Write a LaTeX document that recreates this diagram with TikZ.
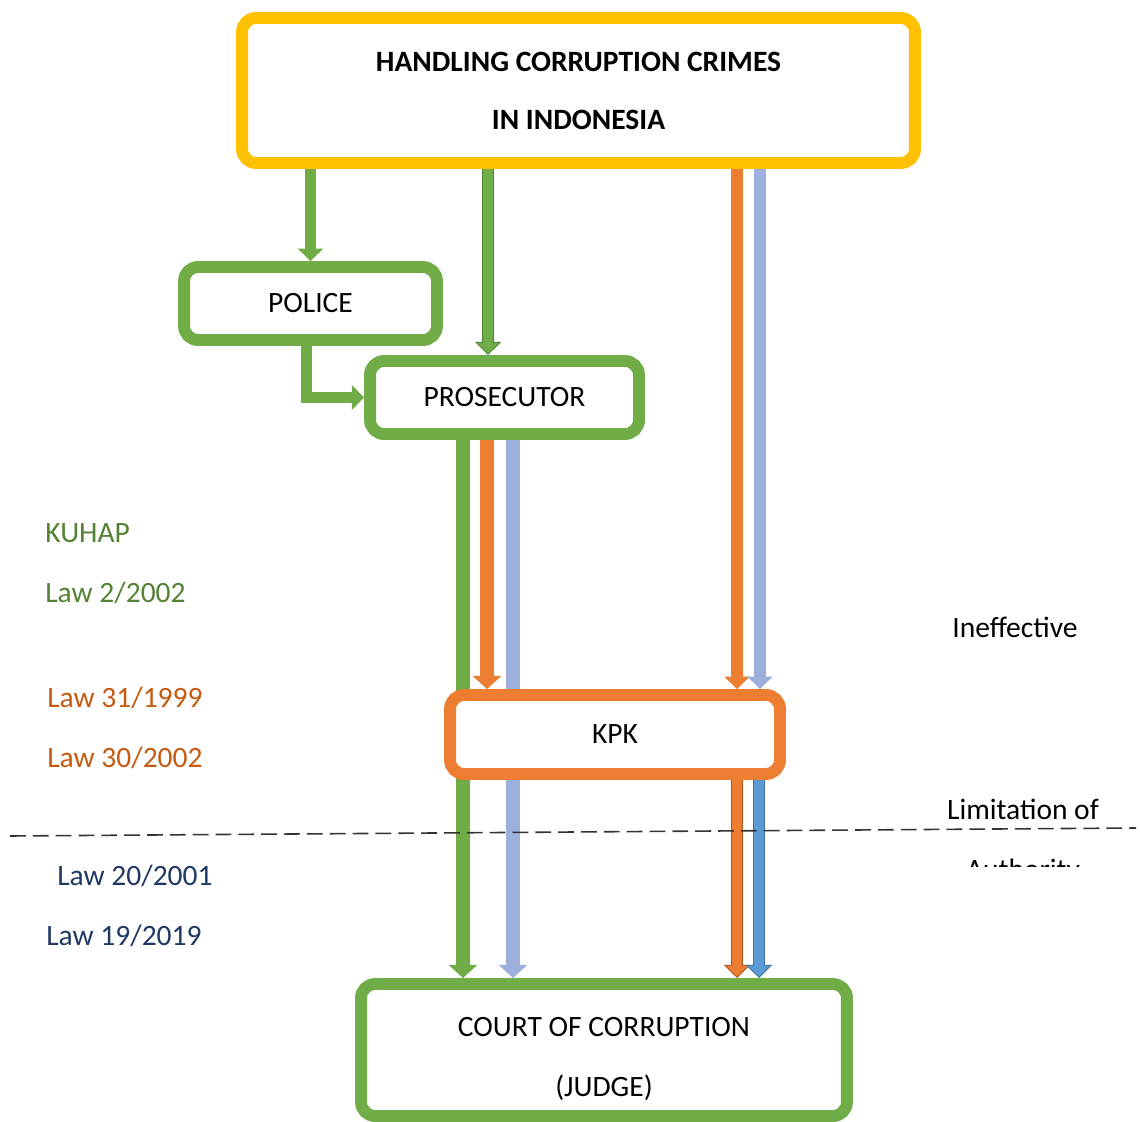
\documentclass[tikz,border=0pt]{standalone}
\usepackage{fontspec}
\setmainfont{Carlito}
\usetikzlibrary{arrows.meta,calc,backgrounds}

\definecolor{boxgold}{HTML}{FFC000}
\definecolor{boxgreen}{HTML}{70AD47}
\definecolor{boxorange}{HTML}{ED7D31}
\definecolor{paleblue}{HTML}{9DB0DD}
\definecolor{midblue}{HTML}{5B9BD5}
\definecolor{rimgreen}{HTML}{507E32}
\definecolor{rimorange}{HTML}{B4561A}
\definecolor{rimblue}{HTML}{41719C}
\definecolor{txtgreen}{HTML}{548235}
\definecolor{txtorange}{HTML}{C55A11}
\definecolor{txtblue}{HTML}{203864}

\tikzset{
  box/.style={draw, fill=white, line width=6.8pt, rounded corners=8pt, align=center},
  arr/.style={line width=6.4pt, -{Triangle[width=14pt,length=7pt]}},
  widearr/.style={line width=7.8pt, -{Triangle[width=16pt,length=7.5pt]}},
  rim/.style={line width=7pt, -{Triangle[width=14.5pt,length=7.5pt]}},
  core/.style={line width=5.6pt, -{Triangle[width=12pt,length=6pt]}, shorten >=0.9pt},
  lawtext/.style={anchor=base west, inner sep=0pt}
}

\begin{document}
\begin{tikzpicture}[x=0.02cm, y=-0.02cm, font=\fontsize{16.8}{20}\selectfont]
  \useasboundingbox (0,0) rectangle (1140,1122);

  % boxes
  \node[box, draw=boxgold, minimum width=13.46cm, minimum height=2.9cm] (title) at (578.5,90.5)
    {\textbf{HANDLING CORRUPTION CRIMES}\\[13pt]\textbf{IN INDONESIA}};
  \node[box, draw=boxgreen, minimum width=5.06cm, minimum height=1.46cm] (police) at (310.5,303.5) {POLICE};
  \node[box, draw=boxgreen, minimum width=5.38cm, minimum height=1.46cm] (prosecutor) at (504.5,397.5) {PROSECUTOR};
  \node[box, draw=boxorange, minimum width=6.6cm, minimum height=1.58cm] (kpk) at (615,734.5) {KPK};
  \node[box, draw=boxgreen, minimum width=9.72cm, minimum height=2.64cm] (court) at (604,1050)
    {\rule{0pt}{21pt}COURT OF CORRUPTION\\[14pt](JUDGE)};

  % connectors, behind the boxes
  \begin{scope}[on background layer]
    \draw[arr, boxgreen] (police.north |- title.south) -- (police.north);
    \draw[rim, rimgreen] ($(prosecutor.north |- title.south)+(-16.5,0)$) -- ($(prosecutor.north)+(-16.5,0)$);
    \draw[core, boxgreen] ($(prosecutor.north |- title.south)+(-16.5,0)$) -- ($(prosecutor.north)+(-16.5,0)$);
    \draw[arr, boxgreen, line join=miter] ($(police.south)+(-4,0)$) |- (prosecutor.west);

    \draw[widearr, boxgreen] ($(prosecutor.south)+(-41.5,0)$) -- ($(court.north -| prosecutor.south)+(-41.5,0)$);
    \draw[widearr, boxorange] ($(prosecutor.south)+(-17.5,0)$) -- ($(kpk.north -| prosecutor.south)+(-17.5,0)$);
    \draw[widearr, paleblue] ($(prosecutor.south)+(8.5,0)$) -- ($(court.north -| prosecutor.south)+(8.5,0)$);

    \draw[arr, boxorange] ($(kpk.north |- title.south)+(122,0)$) -- ($(kpk.north)+(122,0)$);
    \draw[arr, paleblue] ($(kpk.north |- title.south)+(145,0)$) -- ($(kpk.north)+(145,0)$);

    \draw[rim, rimorange] ($(kpk.south)+(122,0)$) -- ($(court.north -| kpk.south)+(122,0)$);
    \draw[core, boxorange] ($(kpk.south)+(122,0)$) -- ($(court.north -| kpk.south)+(122,0)$);
    \draw[rim, rimblue] ($(kpk.south)+(144,0)$) -- ($(court.north -| kpk.south)+(144,0)$);
    \draw[core, midblue] ($(kpk.south)+(144,0)$) -- ($(court.north -| kpk.south)+(144,0)$);
  \end{scope}

  % limit line
  \coordinate (cutL) at (10,836);
  \coordinate (cutR) at (1136,828);
  \draw[line width=0.9pt, black!80, dash pattern=on 9pt off 4pt] (cutL) -- (cutR);

  % laws
  \node[lawtext, txtgreen] (kuhap) at (45,542) {KUHAP};
  \node[lawtext, txtgreen] (law2) at (45,602) {Law 2/2002};
  \node[lawtext, txtorange] (law31) at (47,707) {Law 31/1999};
  \node[lawtext, txtorange] (law30) at (47,767) {Law 30/2002};
  \node[lawtext, txtblue] (law20) at (57,885) {Law 20/2001};
  \node[lawtext, txtblue] (law19) at (46,945) {Law 19/2019};

  % notes on the right
  \node[lawtext] (ineff) at (952,637) {Ineffective};
  \node[anchor=base, inner sep=0pt] (limit) at (1023,819) {Limitation of};
  \begin{scope}
    \clip (900,845) rectangle (1140,866);
    \node[anchor=base, inner sep=0pt] (auth) at (1023,879) {Authority};
  \end{scope}
\end{tikzpicture}
\end{document}
